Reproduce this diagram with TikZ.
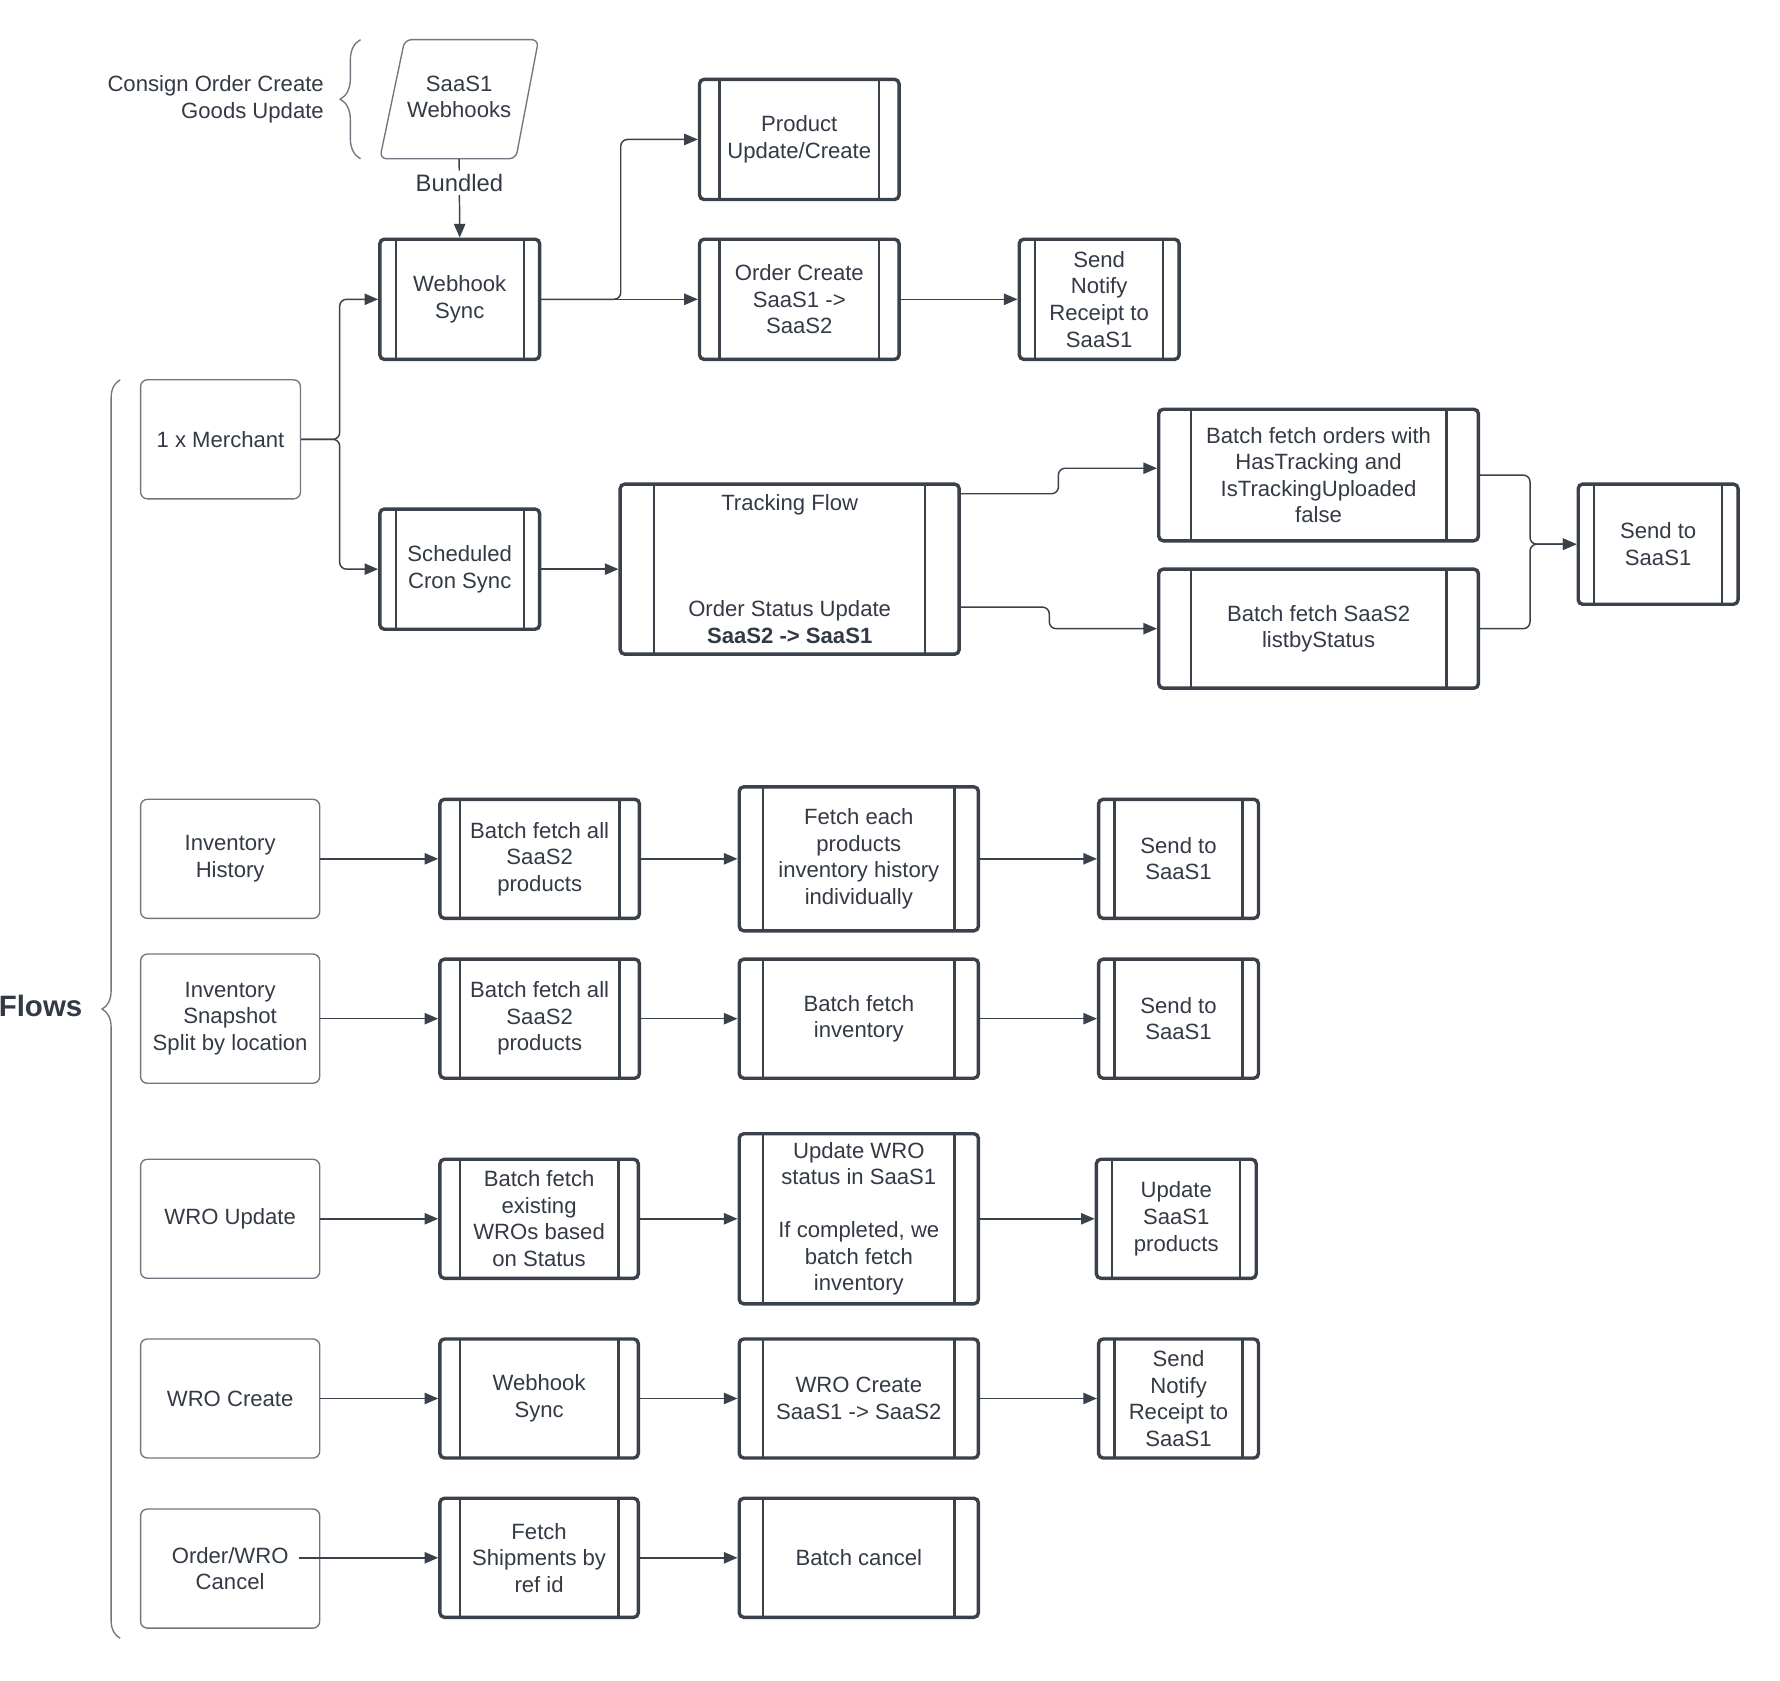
\documentclass[tikz,border=0pt]{standalone}
\usepackage{fontspec}
\setmainfont{Liberation Sans}
\usetikzlibrary{arrows.meta,calc,decorations.pathreplacing}
\definecolor{ink}{HTML}{333A45}
\definecolor{edgec}{HTML}{3A414A}
\definecolor{thinc}{HTML}{707780}
\tikzset{
  every node/.style={font=\fontsize{9.75}{11.7}\selectfont, text=ink, align=center, inner sep=0pt},
  sz/.style 2 args={minimum width=#1*0.5pt, minimum height=#2*0.5pt},
  proc/.style={draw=edgec, line width=1.5pt, rounded corners=2pt, fill=white,
    path picture={
      \draw[edgec, line width=1pt]
        ($(path picture bounding box.north west)!0.1!(path picture bounding box.north east)$) --
        ($(path picture bounding box.south west)!0.1!(path picture bounding box.south east)$)
        ($(path picture bounding box.north west)!0.9!(path picture bounding box.north east)$) --
        ($(path picture bounding box.south west)!0.9!(path picture bounding box.south east)$);
    }},
  plain/.style={draw=thinc, line width=0.6pt, rounded corners=3pt},
  conn/.style={draw=edgec, line width=0.65pt, rounded corners=3pt, -{Triangle[length=6pt,width=5pt]}},
  bracec/.style={draw=thinc, line width=0.6pt, decorate},
}
\begin{document}
\begin{tikzpicture}[x=0.5pt,y=-0.5pt]
\useasboundingbox (0,0) rectangle (1570,1482);

% top brace + label + webhooks parallelogram
\node[anchor=east, align=right] (consign) at (286,87.5) {Consign Order Create\\Goods Update};
\draw[bracec, decoration={brace, amplitude=9pt}] (318,140) -- (318,35);
\draw[thinc, line width=0.6pt, rounded corners=3pt] (357,35) -- (475,35) -- (455,140) -- (335,140) -- cycle;
\node[sz={100}{109}] (wh) at (405,85.5) {SaaS1\\Webhooks};

% upper flow nodes
\node[proc, sz={141}{106}] (ws) at (405.5,264) {Webhook\\Sync};
\node[proc, sz={176}{106}] (prod) at (705,123) {Product\\Update/Create};
\node[proc, sz={176}{106}] (oc) at (705,264) {Order Create\\SaaS1 ->\\SaaS2};
\node[proc, sz={141}{106}] (sn) at (969.5,264) {Send\\Notify\\Receipt to\\SaaS1};
\node[plain, sz={141}{105}] (merch) at (194.5,387.5) {1 x Merchant};
\node[proc, sz={141}{106}] (cron) at (405.5,502) {Scheduled\\Cron Sync};
\node[proc, sz={299}{150}] (track) at (696.5,502) {Tracking Flow\\~\\~\\~\\Order Status Update\\\textbf{SaaS2 -> SaaS1}};
\node[proc, sz={282}{116}] (bo) at (1163,419) {Batch fetch orders with\\HasTracking and\\IsTrackingUploaded\\false};
\node[proc, sz={282}{105}] (bs) at (1163,554.5) {Batch fetch SaaS2\\listbyStatus};
\node[proc, sz={141}{106}] (send) at (1462.5,480) {Send to\\SaaS1};

% upper connectors
\draw[conn] (wh.south) -- node[pos=0.3, fill=white, inner sep=1.5pt, font=\fontsize{10.5}{12}\selectfont] (bund) {Bundled} (ws.north);
\draw[conn] (merch.east) -- ++(34,0) |- (ws.west);
\draw[conn] (merch.east) -- ++(34,0) |- (cron.west);
\draw[conn] (ws.east) -- (oc.west);
\draw[conn] (ws.east) -- ++(70,0) |- (prod.west);
\draw[conn] (oc.east) -- (sn.west);
\draw[conn] (cron.east) -- (track.west);
\coordinate (t1) at ($(track.north east)+(0,10)$);
\coordinate (t2) at ($(track.south east)+(0,-43)$);
\draw[conn] (t1) -- ++(86,0) |- ($(bo.west)+(0,-6)$);
\draw[conn] (t2) -- ++(78,0) |- (bs.west);
\draw[conn] (bo.east) -- ++(44,0) |- (send.west);
\draw[conn] (bs.east) -- ++(44,0) |- (send.west);

% Flows brace
\draw[bracec, decoration={brace, amplitude=8pt}] (106,1445) -- (106,335);
\node[anchor=east, font=\fontsize{13}{15}\selectfont\bfseries] (flows) at (73,887) {Flows};

% row A
\node[plain, sz={158}{105}] (ih) at (203,757.5) {Inventory\\History};
\node[proc, sz={176}{105}] (r1b) at (476,757.5) {Batch fetch all\\SaaS2\\products};
\node[proc, sz={211}{127}] (r1c) at (757.5,757.5) {Fetch each\\products\\inventory history\\individually};
\node[proc, sz={141}{105}] (r1d) at (1039.5,757.5) {Send to\\SaaS1};
\draw[conn] (ih.east) -- (r1b.west);
\draw[conn] (r1b.east) -- (r1c.west);
\draw[conn] (r1c.east) -- (r1d.west);

% row B
\node[plain, sz={158}{114}] (is) at (203,898.5) {Inventory\\Snapshot\\Split by location};
\node[proc, sz={176}{105}] (r2b) at (476,898.5) {Batch fetch all\\SaaS2\\products};
\node[proc, sz={211}{105}] (r2c) at (757.5,898.5) {Batch fetch\\inventory};
\node[proc, sz={141}{105}] (r2d) at (1039.5,898.5) {Send to\\SaaS1};
\draw[conn] (is.east) -- (r2b.west);
\draw[conn] (r2b.east) -- (r2c.west);
\draw[conn] (r2c.east) -- (r2d.west);

% row C
\node[plain, sz={158}{105}] (wu) at (203,1075) {WRO Update};
\node[proc, sz={175}{105}] (r3b) at (475.5,1075) {Batch fetch\\existing\\WROs based\\on Status};
\node[proc, sz={211}{150}] (r3c) at (757.5,1075) {Update WRO\\status in SaaS1\\~\\If completed, we\\batch fetch\\inventory};
\node[proc, sz={141}{105}] (r3d) at (1037.5,1075) {Update\\SaaS1\\products};
\draw[conn] (wu.east) -- (r3b.west);
\draw[conn] (r3b.east) -- (r3c.west);
\draw[conn] (r3c.east) -- (r3d.west);

% row D
\node[plain, sz={158}{105}] (wc) at (203,1233.5) {WRO Create};
\node[proc, sz={175}{105}] (r4b) at (475.5,1233.5) {Webhook\\Sync};
\node[proc, sz={211}{105}] (r4c) at (757.5,1233.5) {WRO Create\\SaaS1 -> SaaS2};
\node[proc, sz={141}{105}] (r4d) at (1039.5,1233.5) {Send\\Notify\\Receipt to\\SaaS1};
\draw[conn] (wc.east) -- (r4b.west);
\draw[conn] (r4b.east) -- (r4c.west);
\draw[conn] (r4c.east) -- (r4d.west);

% row E
\node[plain, sz={158}{105}] (oc2) at (203,1383.5) {Order/WRO\\Cancel};
\node[proc, sz={175}{105}] (r5b) at (475.5,1374) {Fetch\\Shipments by\\ref id};
\node[proc, sz={211}{105}] (r5c) at (757.5,1374) {Batch cancel};
\coordinate (e0) at ($(oc2.east)+(-19,-9.5)$);
\draw[conn] (e0) -- (r5b.west);
\draw[conn] (r5b.east) -- (r5c.west);
\end{tikzpicture}
\end{document}
